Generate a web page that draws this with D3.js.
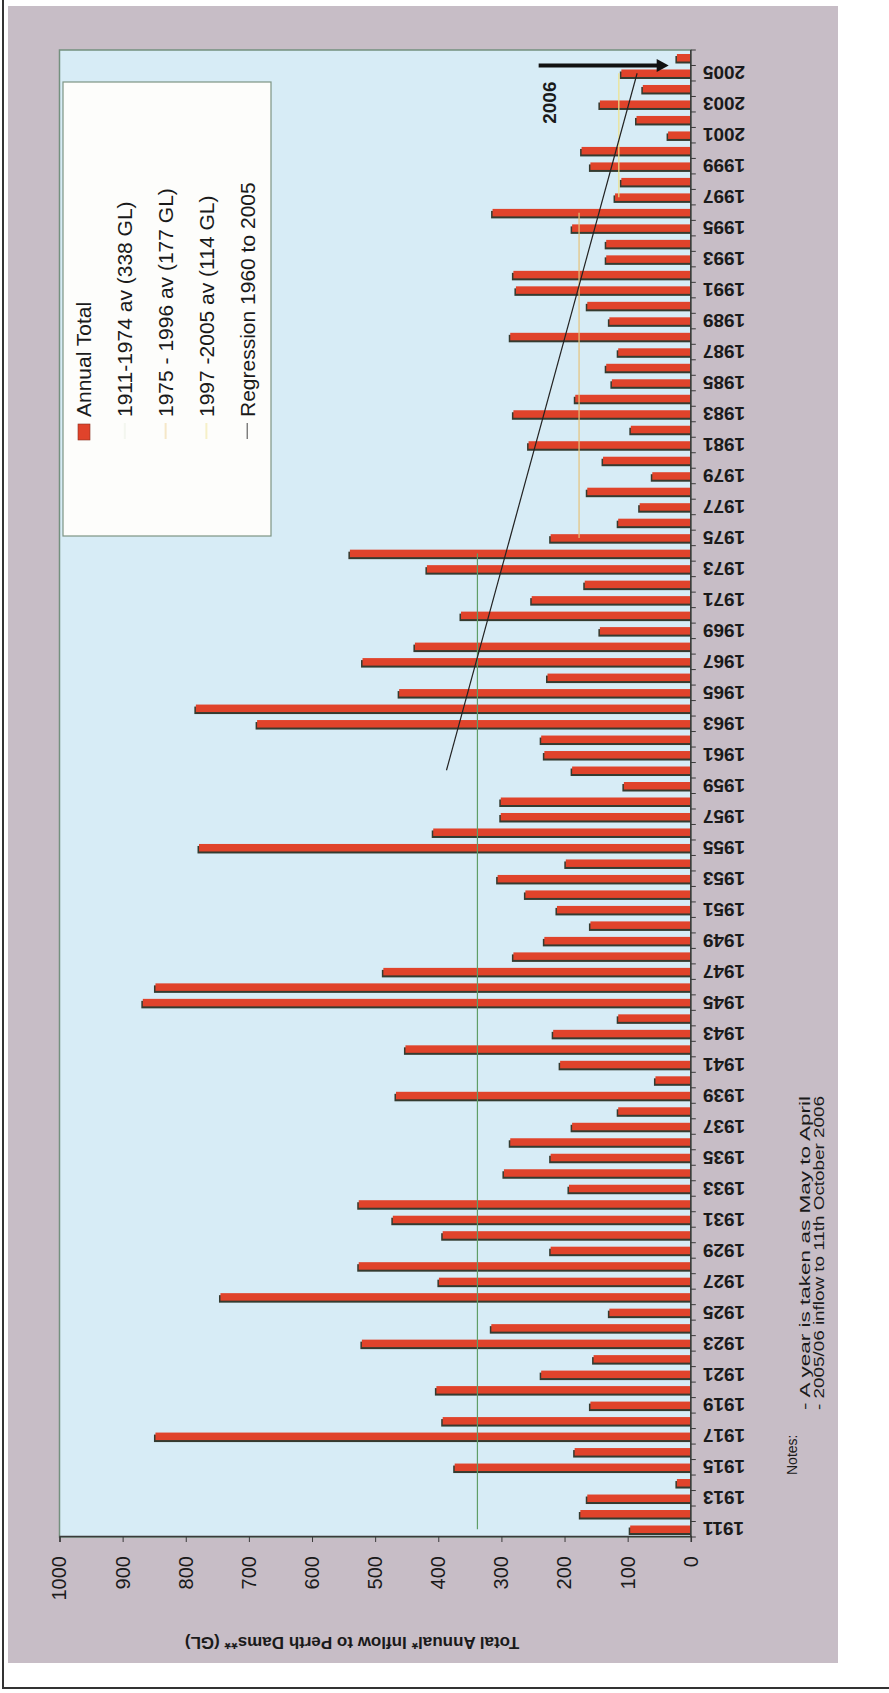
<!DOCTYPE html>
<html>
<head>
<meta charset="utf-8">
<script src="https://cdn.jsdelivr.net/npm/d3@7"></script>
<style>
  html, body { margin: 0; padding: 0; background: #fff; }
  svg { display: block; font-family: "Liberation Sans", Arial, sans-serif; }
</style>
</head>
<body>
<svg id="chart" width="889" height="1693"></svg>
<script>
//======
// Data
//======
var years = d3.range(1911, 2007);

// total annual inflow (GL), 1911 .. 2006
var inflow = [
   96, 175, 164,  22, 374, 184, 848, 393, 159, 403,   // 1911-1920
  237, 154, 521, 316, 129, 745, 399, 526, 222, 393,   // 1921-1930
  472, 526, 193, 296, 222, 286, 188, 115, 467,  56,   // 1931-1940
  207, 452, 218, 115, 868, 848, 487, 281, 232, 159,   // 1941-1950
  212, 262, 306, 198, 779, 408, 301, 301, 106, 188,   // 1951-1960
  232, 237, 687, 784, 462, 227, 520, 437, 144, 364,   // 1961-1970
  252, 168, 418, 540, 222, 115,  81, 164,  61, 139,   // 1971-1980
  257,  95, 281, 183, 125, 134, 115, 286, 129, 164,   // 1981-1990
  277, 281, 134, 134, 188, 314, 120, 110, 159, 173,   // 1991-2000
   36,  86, 144,  76, 110,  22                        // 2001-2006
];

var yearTicks = years.filter(function(y) { return y % 2 === 1; });
var valueTicks = [0, 100, 200, 300, 400, 500, 600, 700, 800, 900, 1000];

var avgPeriods = [[1911, 1974], [1975, 1996], [1997, 2005]];
var avgValues = [338, 177, 114];

var regressionYears = [1960, 2005];
var regressionValues = [387, 85];

var legendLabels = [
  "Annual Total",
  "1911-1974 av (338 GL)",
  "1975 - 1996 av (177 GL)",
  "1997 -2005 av (114 GL)",
  "Regression 1960 to 2005"
];

var axisTitle = "Total Annual* Inflow to Perth Dams** (GL)";
var notes = ["Notes:", "- A year is taken as May to April", "- 2005/06 inflow to 11th October 2006"];
var arrowYear = 2006, arrowFrom = 241, arrowTo = 35, arrowLabelAt = 224;

//==========
// Drawing
//==========
var svg = d3.select("#chart");

// page background + scanned frame
svg.append("rect").attr("x", 8).attr("y", 6).attr("width", 830).attr("height", 1657)
  .attr("fill", "#c7bdc6");
svg.append("line").attr("x1", 3).attr("x2", 3).attr("y1", 0).attr("y2", 1689)
  .attr("stroke", "#333").attr("stroke-width", 2);
svg.append("line").attr("x1", 2).attr("x2", 889).attr("y1", 1688).attr("y2", 1688)
  .attr("stroke", "#333").attr("stroke-width", 2);

// the chart is printed sideways: draw it landscape and turn it
var g = svg.append("g").attr("transform", "translate(0,1693) rotate(-90)");

var plot = { left: 156, right: 1643, top: 59.5, bottom: 690.8 };

var x = d3.scaleBand().domain(years).range([plot.left, plot.right]);
var y = d3.scaleLinear().domain([0, 1000]).range([plot.bottom, plot.top]);
var bw = x.bandwidth();

g.append("rect")
  .attr("x", plot.left).attr("y", plot.top)
  .attr("width", plot.right - plot.left).attr("height", plot.bottom - plot.top)
  .attr("fill", "#d7ecf6").attr("stroke", "#74907f").attr("stroke-width", 1.5);

// bars (with the 3D shadow)
var barW = 7.5;
g.selectAll(".shadow").data(years).enter().append("rect")
  .attr("class", "shadow")
  .attr("x", function(d) { return x(d) + (bw - barW) / 2 - 2; })
  .attr("y", function(d, i) { return y(inflow[i]) - 1.5; })
  .attr("width", barW)
  .attr("height", function(d, i) { return y(0) - y(inflow[i]) + 1.5; })
  .attr("fill", "#343b30");

g.selectAll(".bar").data(years).enter().append("rect")
  .attr("class", "bar")
  .attr("x", function(d) { return x(d) + (bw - barW) / 2; })
  .attr("y", function(d, i) { return y(inflow[i]); })
  .attr("width", barW)
  .attr("height", function(d, i) { return y(0) - y(inflow[i]); })
  .attr("fill", "#e0432b");

// period averages
var avgColors = ["#5f9e67", "#e6c27a", "#efe38c"];
avgPeriods.forEach(function(p, i) {
  g.append("line")
    .attr("x1", x(p[0]) + bw / 2).attr("x2", x(p[1]) + bw / 2)
    .attr("y1", y(avgValues[i])).attr("y2", y(avgValues[i]))
    .attr("stroke", avgColors[i]).attr("stroke-width", 1.2);
});

// regression
g.append("line")
  .attr("x1", x(regressionYears[0]) + bw / 2).attr("x2", x(regressionYears[1]) + bw / 2)
  .attr("y1", y(regressionValues[0])).attr("y2", y(regressionValues[1]))
  .attr("stroke", "#222").attr("stroke-width", 1.2);

// category axis
g.append("line")
  .attr("x1", plot.left).attr("x2", plot.right)
  .attr("y1", plot.bottom).attr("y2", plot.bottom)
  .attr("stroke", "#3a3a3a").attr("stroke-width", 1.5);

g.selectAll(".ctick").data(years.concat([null])).enter().append("line")
  .attr("x1", function(d) { return d === null ? plot.right : x(d); })
  .attr("x2", function(d) { return d === null ? plot.right : x(d); })
  .attr("y1", plot.bottom).attr("y2", plot.bottom + 5)
  .attr("stroke", "#3a3a3a");

var xAxis = g.append("g")
  .attr("transform", "translate(0," + plot.bottom + ")")
  .call(d3.axisBottom(x).tickValues(yearTicks).tickSize(0));
xAxis.select(".domain").remove();
xAxis.selectAll("text")
  .attr("transform", "rotate(-90)")
  .attr("x", -12).attr("y", 0).attr("dy", "0.36em")
  .style("text-anchor", "end")
  .style("font-size", "19px").style("font-weight", "bold")
  .style("font-family", '"Liberation Sans", Arial, sans-serif')
  .attr("fill", "#1a1a1a");

// value axis
var yAxis = g.append("g")
  .attr("transform", "translate(" + plot.left + ",0)")
  .call(d3.axisLeft(y).tickValues(valueTicks).tickSize(5).tickPadding(14).tickFormat(d3.format("d")));
yAxis.select(".domain").attr("stroke", "#3a3a3a").attr("stroke-width", 1.5);
yAxis.selectAll(".tick line").attr("stroke", "#3a3a3a");
yAxis.selectAll("text")
  .style("font-size", "20px")
  .style("font-family", '"Liberation Sans", Arial, sans-serif')
  .attr("fill", "#1a1a1a");

g.append("text")
  .attr("transform", "translate(50,352) rotate(-90)")
  .attr("dy", "0.35em")
  .style("text-anchor", "middle")
  .style("font-size", "17px").style("font-weight", "bold")
  .attr("fill", "#1a1a1a")
  .text(axisTitle);

// 2006 arrow
var ax = x(arrowYear);
g.append("line")
  .attr("x1", ax).attr("x2", ax)
  .attr("y1", y(arrowFrom)).attr("y2", y(arrowTo) - 9)
  .attr("stroke", "#111").attr("stroke-width", 4);
g.append("path")
  .attr("d", "M" + (ax - 6.5) + "," + (y(arrowTo) - 12) + "L" + ax + "," + y(arrowTo) +
             "L" + (ax + 6.5) + "," + (y(arrowTo) - 12) + "Z")
  .attr("fill", "#111");
g.append("text")
  .attr("x", ax - 16).attr("y", y(arrowLabelAt)).attr("dy", "0.35em")
  .style("text-anchor", "end")
  .style("font-size", "19px").style("font-weight", "bold")
  .attr("fill", "#1a1a1a")
  .text(String(arrowYear));

// legend
var legend = g.append("g").attr("transform", "translate(1157,63)");
legend.append("rect")
  .attr("width", 454).attr("height", 208)
  .attr("fill", "#fdfdfb").attr("stroke", "#7d9484").attr("stroke-width", 1.2);

var rows = legend.selectAll(".row").data(legendLabels).enter().append("g")
  .attr("transform", function(d, i) { return "translate(0," + (21 + i * 40.8) + ")"; });

rows.append("text")
  .attr("x", 119).attr("dy", "0.35em")
  .style("font-size", "21px")
  .attr("fill", "#1a1a1a")
  .text(function(d) { return d; });

var legendColors = ["#e0432b", "#f3f6ef", "#f5e7c8", "#f6f0c8", "#444"];
rows.each(function(d, i) {
  var r = d3.select(this);
  if (i === 0) {
    r.append("rect").attr("x", 96).attr("y", -6).attr("width", 16).attr("height", 12)
      .attr("fill", legendColors[i]).attr("stroke", "#8a3020").attr("stroke-width", 0.6);
  } else {
    r.append("line").attr("x1", 97).attr("x2", 113).attr("y1", 0).attr("y2", 0)
      .attr("stroke", legendColors[i]).attr("stroke-width", i === 4 ? 1 : 2);
  }
});

// notes
g.append("text").attr("x", 218).attr("y", 792).attr("dy", "0.35em")
  .style("font-size", "14px").attr("fill", "#1a1a1a").text(notes[0]);
g.selectAll(".note").data(notes.slice(1)).enter().append("text")
  .attr("x", 283).attr("y", function(d, i) { return 805 + i * 14; }).attr("dy", "0.35em")
  .attr("textLength", 314).attr("lengthAdjust", "spacingAndGlyphs")
  .style("font-size", "14px").attr("fill", "#1a1a1a")
  .text(function(d) { return d; });
</script>
</body>
</html>
